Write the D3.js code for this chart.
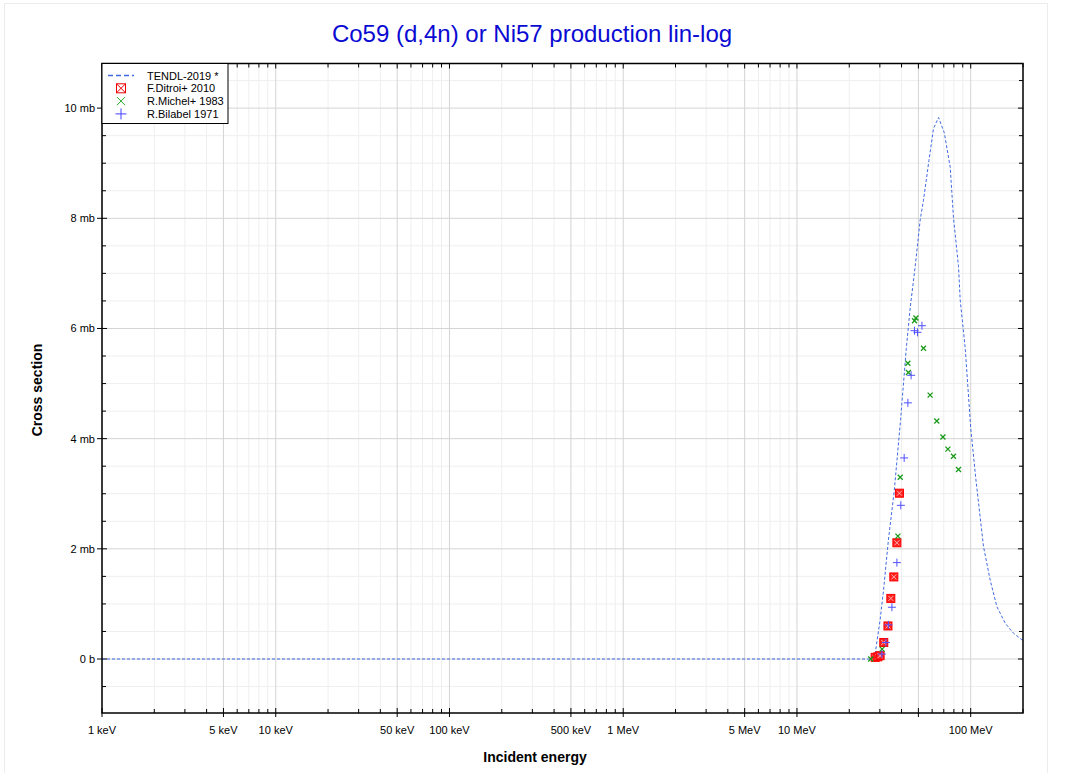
<!DOCTYPE html>
<html>
<head>
<meta charset="utf-8">
<script src="https://cdn.jsdelivr.net/npm/d3@7"></script>
<style>
  body { margin: 0; background: #fff; }
  text { font-family: "Liberation Sans", Arial, sans-serif; }
</style>
</head>
<body>
<svg id="chart" width="1071" height="773"></svg>
<script>
// energies in MeV, cross sections in mb
const tendlE = [0.001, 26.4, 28.2, 30.1, 31.5, 33.6, 36.3, 39.5, 42.6, 44.9, 47.9, 51.2, 53.5, 57.5, 61.1, 65.3, 70.5, 76.2, 79.6, 85.1, 87.0, 93.0, 100, 107.2, 118.5, 129.5, 141.5, 158, 176, 197, 200];
const tendlXS = [0, 0, 0.10, 0.71, 1.25, 2.16, 3.05, 4.35, 5.64, 6.39, 7.12, 7.97, 8.33, 9.05, 9.63, 9.83, 9.55, 8.93, 8.01, 7.12, 6.52, 5.64, 4.2, 3.25, 2.04, 1.43, 0.95, 0.65, 0.47, 0.35, 0.34];

const ditroiE = [28.2, 29.2, 30.1, 31.6, 33.4, 34.7, 36.1, 37.6, 38.9];
const ditroiXS = [0.03, 0.04, 0.06, 0.30, 0.60, 1.10, 1.49, 2.11, 3.01];

const michelE = [26.6, 30.9, 38.1, 39.3, 43.5, 43.8, 47.5, 48.4, 53.5, 58.4, 63.8, 69.2, 73.9, 79.6, 85.1];
const michelXS = [0.0, 0.18, 2.23, 3.30, 5.37, 5.20, 6.14, 6.19, 5.64, 4.79, 4.32, 4.03, 3.81, 3.68, 3.44];

const bilabelE = [30.8, 32.5, 33.6, 35.2, 37.6, 39.6, 41.4, 43.5, 45.4, 47.5, 49.4, 52.4];
const bilabelXS = [0.09, 0.30, 0.62, 0.94, 1.75, 2.79, 3.65, 4.65, 5.15, 5.96, 5.93, 6.05];

const xTickValues = [0.001, 0.005, 0.01, 0.05, 0.1, 0.5, 1, 5, 10, 100];
const xTickLabels = ["1 keV", "5 keV", "10 keV", "50 keV", "100 keV", "500 keV", "1 MeV", "5 MeV", "10 MeV", "100 MeV"];
const yTickValues = [0, 2, 4, 6, 8, 10];
const yTickLabels = ["0 b", "2 mb", "4 mb", "6 mb", "8 mb", "10 mb"];

const legendNames = ["TENDL-2019 *", "F.Ditroi+ 2010", "R.Michel+ 1983", "R.Bilabel 1971"];

const svg = d3.select("#chart");
const margin = {left: 102, right: 1023, top: 63.5, bottom: 713};

const x = d3.scaleLog().domain([0.001, 200]).range([margin.left, margin.right]);
const y = d3.scaleLinear().domain([-0.98, 10.81]).range([margin.bottom, margin.top]);

// outer frame
svg.append("rect").attr("x", 4.5).attr("y", 3.5).attr("width", 1043).attr("height", 780)
  .attr("fill", "none").attr("stroke", "#ececec");

svg.append("text").attr("x", 532).attr("y", 42).attr("text-anchor", "middle")
  .attr("font-size", 24).attr("fill", "#0a0ad2").text("Co59 (d,4n) or Ni57 production lin-log");

// grid values
const xMinor = [], xMajor = [];
for (let d = 0.001; d < 300; d *= 10) {
  for (let m = 1; m <= 9; m++) {
    const v = +(d * m).toPrecision(3);
    if (v > 200) break;
    if (m === 1 || m === 5) xMajor.push(v); else xMinor.push(v);
  }
}
const yMinor = d3.range(-0.5, 10.81, 0.5).filter(v => v % 2 !== 0);

const grid = svg.append("g");
grid.selectAll(".gxm").data(xMinor).join("line")
  .attr("x1", d => x(d)).attr("x2", d => x(d)).attr("y1", margin.top).attr("y2", margin.bottom)
  .attr("stroke", "#efefef");
grid.selectAll(".gym").data(yMinor).join("line")
  .attr("y1", d => y(d)).attr("y2", d => y(d)).attr("x1", margin.left).attr("x2", margin.right)
  .attr("stroke", "#efefef");
grid.selectAll(".gxM").data(xMajor).join("line")
  .attr("x1", d => x(d)).attr("x2", d => x(d)).attr("y1", margin.top).attr("y2", margin.bottom)
  .attr("stroke", "#d4d4d4");
grid.selectAll(".gyM").data(yTickValues).join("line")
  .attr("y1", d => y(d)).attr("y2", d => y(d)).attr("x1", margin.left).attr("x2", margin.right)
  .attr("stroke", "#d4d4d4");

// ticks
const ticks = svg.append("g").attr("stroke", "#000");
xMinor.forEach(v => {
  ticks.append("line").attr("x1", x(v)).attr("x2", x(v)).attr("y1", margin.bottom - 4).attr("y2", margin.bottom);
  ticks.append("line").attr("x1", x(v)).attr("x2", x(v)).attr("y1", margin.top).attr("y2", margin.top + 4);
});
xMajor.forEach(v => {
  ticks.append("line").attr("x1", x(v)).attr("x2", x(v)).attr("y1", margin.bottom - 5).attr("y2", margin.bottom + 4);
  ticks.append("line").attr("x1", x(v)).attr("x2", x(v)).attr("y1", margin.top).attr("y2", margin.top + 5);
});
yMinor.forEach(v => {
  ticks.append("line").attr("x1", margin.left).attr("x2", margin.left + 4).attr("y1", y(v)).attr("y2", y(v));
  ticks.append("line").attr("x1", margin.right - 4).attr("x2", margin.right).attr("y1", y(v)).attr("y2", y(v));
});
yTickValues.forEach(v => {
  ticks.append("line").attr("x1", margin.left - 5).attr("x2", margin.left + 5).attr("y1", y(v)).attr("y2", y(v));
  ticks.append("line").attr("x1", margin.right - 5).attr("x2", margin.right).attr("y1", y(v)).attr("y2", y(v));
});

svg.selectAll(".xl").data(xTickValues).join("text")
  .attr("x", d => x(d)).attr("y", 734).attr("text-anchor", "middle").attr("font-size", 11)
  .text((d, i) => xTickLabels[i]);
svg.selectAll(".yl").data(yTickValues).join("text")
  .attr("x", 95).attr("y", d => y(d) + 4).attr("text-anchor", "end").attr("font-size", 11)
  .text((d, i) => yTickLabels[i]);

svg.append("text").attr("x", 535).attr("y", 762).attr("text-anchor", "middle")
  .attr("font-size", 14).attr("font-weight", "bold").text("Incident energy");
svg.append("text").attr("transform", "translate(42,390) rotate(-90)").attr("text-anchor", "middle")
  .attr("font-size", 14).attr("font-weight", "bold").text("Cross section");

// plot clip
svg.append("clipPath").attr("id", "clip").append("rect")
  .attr("x", margin.left).attr("y", margin.top).attr("width", margin.right - margin.left).attr("height", margin.bottom - margin.top);
const plot = svg.append("g").attr("clip-path", "url(#clip)");

const line = d3.line().x(d => x(d[0])).y(d => y(d[1]));
plot.append("path").datum(d3.zip(tendlE, tendlXS)).attr("d", line)
  .attr("fill", "none").attr("stroke", "#4169e1").attr("stroke-width", 1).attr("stroke-dasharray", "3,2");

function squareX(g, cx, cy, s, w) {
  g.append("rect").attr("x", cx - s / 2).attr("y", cy - s / 2).attr("width", s).attr("height", s)
    .attr("fill", "#ff2020").attr("stroke", "#ff0000").attr("stroke-width", w);
  const h = s / 2 - 1.5;
  g.append("path").attr("d", `M${cx - h},${cy - h}L${cx + h},${cy + h}M${cx - h},${cy + h}L${cx + h},${cy - h}`)
    .attr("stroke", "#ffb0b0").attr("stroke-width", 1);
}
function cross(g, cx, cy, s, color, w) {
  g.append("path").attr("d", `M${cx - s},${cy - s}L${cx + s},${cy + s}M${cx - s},${cy + s}L${cx + s},${cy - s}`)
    .attr("stroke", color).attr("stroke-width", w);
}
function plus(g, cx, cy, s, color, w) {
  g.append("path").attr("d", `M${cx - s},${cy}L${cx + s},${cy}M${cx},${cy - s}L${cx},${cy + s}`)
    .attr("stroke", color).attr("stroke-width", w);
}

const pts = plot.append("g");
d3.zip(ditroiE, ditroiXS).forEach(d => squareX(pts, x(d[0]), y(d[1]), 8, 1));
d3.zip(michelE, michelXS).forEach(d => cross(pts, x(d[0]), y(d[1]), 2.5, "#1a9a1a", 1.3));
d3.zip(bilabelE, bilabelXS).forEach(d => plus(pts, x(d[0]), y(d[1]), 4, "#5050ff", 1));

// frame
svg.append("rect").attr("x", margin.left).attr("y", margin.top)
  .attr("width", margin.right - margin.left).attr("height", margin.bottom - margin.top)
  .attr("fill", "none").attr("stroke", "#000").attr("stroke-width", 1.5);

// legend
const lg = svg.append("g");
lg.append("rect").attr("x", margin.left).attr("y", margin.top).attr("width", 126).attr("height", 60)
  .attr("fill", "#fff").attr("stroke", "#000").attr("stroke-width", 1);
const rowY = d => 75.5 + d * 12.8;
lg.append("line").attr("x1", 108).attr("x2", 134).attr("y1", rowY(0)).attr("y2", rowY(0))
  .attr("stroke", "#4169e1").attr("stroke-width", 1.5).attr("stroke-dasharray", "5,3");
const lsq = lg.append("g");
lsq.append("rect").attr("x", 116.5).attr("y", rowY(1) - 4.5).attr("width", 9).attr("height", 9)
  .attr("fill", "none").attr("stroke", "#ee0000").attr("stroke-width", 1);
lsq.append("path").attr("d", `M116.5,${rowY(1) - 4.5}L125.5,${rowY(1) + 4.5}M116.5,${rowY(1) + 4.5}L125.5,${rowY(1) - 4.5}`)
  .attr("stroke", "#ee0000");
cross(lg, 121, rowY(2), 4, "#22aa22", 1);
plus(lg, 121, rowY(3), 5.5, "#4040ff", 1);
lg.selectAll(".lt").data(legendNames).join("text")
  .attr("x", 147).attr("y", (d, i) => rowY(i) + 4).attr("font-size", 11).text(d => d);
</script>
</body>
</html>
